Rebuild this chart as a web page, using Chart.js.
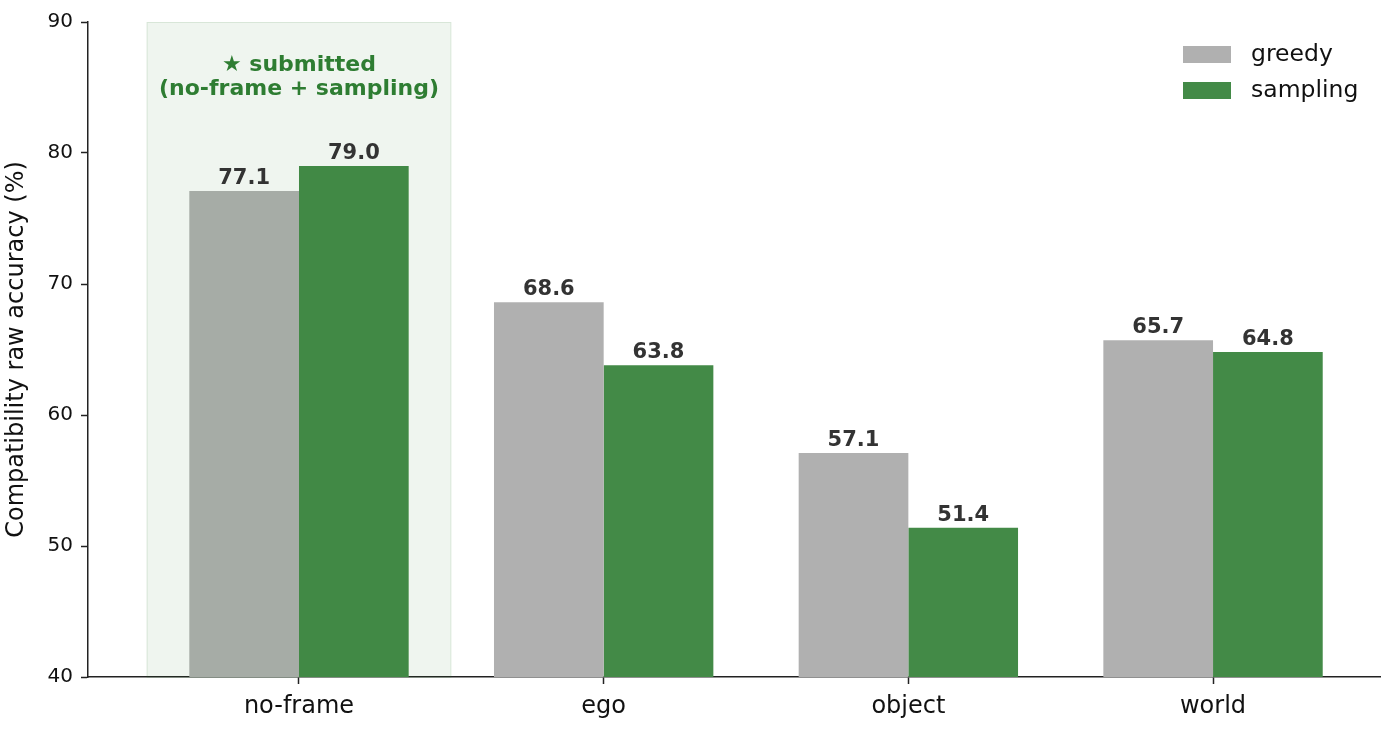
<!DOCTYPE HTML>
<html lang="EN">
<head>
<meta charset="utf-8">
<title>Compatibility accuracy</title>
<style>
  html, body { margin: 0; padding: 0; background: #fff; }
  #wrap { position: relative; width: 1396px; height: 733px; }
</style>
</head>
<body>
<div id="wrap"><canvas id="accChart" width="1396" height="733"></canvas></div>
<script src="https://cdn.jsdelivr.net/npm/chart.js"></script>
<script>
const categories = ['no-frame', 'ego', 'object', 'world'];
const greedy = [77.1, 68.6, 57.1, 65.7];
const sampling = [79.0, 63.8, 51.4, 64.8];
const yTicks = [40, 50, 60, 70, 80, 90];
const highlightIndex = 0;
const noteLines = ['\u2605 submitted', '(no-frame + sampling)'];

const FONT = "'DejaVu Sans', sans-serif";

function toPoints(vals) {
  return vals.map((v, i) => ({ x: i, y: v }));
}

// band over the submitted config + note text
const bandPlugin = {
  id: 'band',
  afterDatasetsDraw(chart) {
    const { ctx, chartArea, scales: { x, y } } = chart;
    const x0 = x.getPixelForValue(highlightIndex - 0.5);
    const x1 = x.getPixelForValue(highlightIndex + 0.5);
    ctx.save();
    ctx.fillStyle = 'rgba(46,125,50,0.08)';
    ctx.fillRect(x0, chartArea.top, x1 - x0, chartArea.bottom - chartArea.top);
    ctx.strokeStyle = 'rgba(46,125,50,0.12)';
    ctx.lineWidth = 1;
    ctx.strokeRect(x0 + 0.5, chartArea.top + 0.5, x1 - x0 - 1, chartArea.bottom - chartArea.top);
    ctx.fillStyle = '#2e7d32';
    ctx.font = 'bold 22px ' + FONT;
    ctx.textAlign = 'center';
    ctx.textBaseline = 'middle';
    const cx = x.getPixelForValue(highlightIndex);
    noteLines.forEach((t, i) => ctx.fillText(t, cx, y.getPixelForValue(86.7) + i * 24));
    ctx.restore();
  }
};

// value labels above bars
const labelPlugin = {
  id: 'valueLabels',
  afterDatasetsDraw(chart) {
    const { ctx } = chart;
    ctx.save();
    ctx.font = 'bold 21px ' + FONT;
    ctx.fillStyle = '#333333';
    ctx.textAlign = 'center';
    ctx.textBaseline = 'bottom';
    chart.data.datasets.forEach((ds, di) => {
      chart.getDatasetMeta(di).data.forEach((bar, i) => {
        ctx.fillText(ds.data[i].y.toFixed(1), bar.x, bar.y - 2);
      });
    });
    ctx.restore();
  }
};

// legend in the upper right corner
const legendPlugin = {
  id: 'cornerLegend',
  afterDraw(chart) {
    const { ctx, chartArea } = chart;
    ctx.save();
    ctx.font = '23.5px ' + FONT;
    ctx.textBaseline = 'middle';
    ctx.textAlign = 'left';
    chart.data.datasets.forEach((ds, i) => {
      const top = chartArea.top + 24 + i * 36;
      ctx.fillStyle = ds.backgroundColor;
      ctx.fillRect(chartArea.right - 197, top, 48, 17);
      ctx.fillStyle = '#111';
      ctx.fillText(ds.label, chartArea.right - 129, top + 9);
    });
    ctx.restore();
  }
};

const data = {
  datasets: [{
    label: 'greedy',
    backgroundColor: '#b0b0b0',
    data: toPoints(greedy)
  }, {
    label: 'sampling',
    backgroundColor: '#438a47',
    data: toPoints(sampling)
  }]
};

const options = {
  responsive: false,
  animation: false,
  layout: { padding: { top: 22, right: 16, left: 0, bottom: 0 } },
  datasets: { bar: { categoryPercentage: 0.72, barPercentage: 1.0, borderWidth: 0 } },
  plugins: { legend: { display: false }, tooltip: { enabled: false } },
  scales: {
    x: {
      type: 'linear',
      offset: false,
      min: -0.6925,
      max: 3.548,
      afterBuildTicks: s => { s.ticks = categories.map((c, i) => ({ value: i })); },
      afterFit: s => { s.height = 56; },
      ticks: {
        callback: v => categories[v],
        font: { family: FONT, size: 24 },
        color: '#111',
        padding: 8,
        maxRotation: 0
      },
      grid: { offset: false, drawOnChartArea: false, tickLength: 7, tickWidth: 1.5, color: '#222', tickColor: '#222' },
      border: { color: '#222', width: 1.5 }
    },
    y: {
      min: 40,
      max: 90,
      afterBuildTicks: s => { s.ticks = yTicks.map(v => ({ value: v })); },
      afterFit: s => { s.width = 88; },
      ticks: {
        font: { family: FONT, size: 20 },
        color: '#111',
        padding: 8
      },
      grid: { drawOnChartArea: false, tickLength: 7, tickWidth: 1.5, color: '#222', tickColor: '#222' },
      border: { color: '#222', width: 1.5 },
      title: {
        display: true,
        text: 'Compatibility raw accuracy (%)',
        font: { family: FONT, size: 24 },
        color: '#111',
        padding: { top: 2, bottom: 0 }
      }
    }
  }
};

new Chart(document.getElementById('accChart'), {
  type: 'bar',
  data,
  options,
  plugins: [bandPlugin, labelPlugin, legendPlugin]
});
</script>
</body>
</html>
